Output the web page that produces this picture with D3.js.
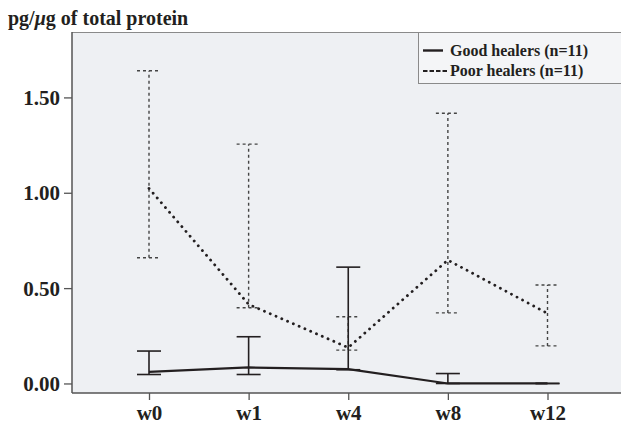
<!DOCTYPE html>
<html>
<head>
  <meta charset="utf-8">
  <script src="https://d3js.org/d3.v7.min.js"></script>
  <style>
    body { margin: 0; background: #fff; }
    text { font-family: "Liberation Serif", "Times New Roman", serif; font-weight: bold; fill: #231f20; }
  </style>
</head>
<body>
  <svg id="chart" width="621" height="424"></svg>
  <script>
    // weeks on the x axis
    var weeks = ['w0', 'w1', 'w4', 'w8', 'w12'];
    // good healers: value and error bar (low / high)
    var goodVal  = [0.061, 0.084, 0.075, 0.000, 0.000];
    var goodLow  = [0.047, 0.047, 0.072, 0.000, 0.000];
    var goodHigh = [0.170, 0.245, 0.610, 0.052, 0.000];
    // poor healers
    var poorVal  = [1.023, 0.415, 0.188, 0.647, 0.367];
    var poorLow  = [0.659, 0.397, 0.175, 0.370, 0.197];
    var poorHigh = [1.640, 1.255, 0.350, 1.417, 0.516];
    var yTicks = [0, 0.5, 1.0, 1.5];

    var svg = d3.select('#chart');
    // note: "top" is taken by window.top, so use plot* names
    var plotLeft = 72, plotTop = 32, plotRight = 624, plotBottom = 393;

    var x = d3.scalePoint().domain(weeks).range([149, 547.5]);
    var y = d3.scaleLinear().domain([-0.05, 1.843]).range([plotBottom, plotTop]);

    // plot background + frame
    svg.append('rect')
      .attr('x', plotLeft).attr('y', plotTop)
      .attr('width', plotRight - plotLeft).attr('height', plotBottom - plotTop)
      .attr('fill', '#eef0f3');
    svg.append('line').attr('x1', plotLeft).attr('x2', plotRight).attr('y1', plotTop + 0.5).attr('y2', plotTop + 0.5)
      .attr('stroke', '#8a8a8a').attr('stroke-width', 1.2);

    // y axis
    var gy = svg.append('g').attr('transform', 'translate(' + plotLeft + ',0)')
      .call(d3.axisLeft(y).tickValues(yTicks).tickFormat(d3.format('.2f')).tickSize(8).tickPadding(4));
    gy.select('.domain').attr('stroke', '#555').attr('stroke-width', 1.5).attr('d', 'M0,' + plotBottom + 'V' + plotTop);
    gy.selectAll('.tick line').attr('stroke', '#555').attr('stroke-width', 1.3);
    gy.selectAll('.tick text').style('font-size', '21px').attr('dy', '0.34em');

    // x axis
    var gx = svg.append('g').attr('transform', 'translate(0,' + plotBottom + ')')
      .call(d3.axisBottom(x).tickSize(7).tickPadding(8));
    gx.select('.domain').attr('stroke', '#555').attr('stroke-width', 1.5).attr('d', 'M' + plotLeft + ',0H' + plotRight);
    gx.selectAll('.tick line').attr('stroke', '#555').attr('stroke-width', 1.3);
    gx.selectAll('.tick text').style('font-size', '21px').attr('y', 27).attr('dy', 0);

    // title
    var title = svg.append('text').attr('x', 8).attr('y', 25).style('font-size', '20px');
    title.append('tspan').text('pg/');
    title.append('tspan').style('font-style', 'italic').text('\u03bc');
    title.append('tspan').text('g of total protein');

    var cap = 12;
    function errorBars(low, high, dash, color, width) {
      var g = svg.append('g').attr('stroke', color).attr('stroke-width', width).attr('fill', 'none');
      if (dash) g.attr('stroke-dasharray', dash);
      weeks.forEach(function(w, i) {
        var cx = x(w);
        g.append('line').attr('x1', cx).attr('x2', cx).attr('y1', y(low[i])).attr('y2', y(high[i]));
        g.append('line').attr('x1', cx - cap).attr('x2', cx + cap).attr('y1', y(high[i])).attr('y2', y(high[i]));
        g.append('line').attr('x1', cx - cap).attr('x2', cx + cap).attr('y1', y(low[i])).attr('y2', y(low[i]));
      });
    }

    var line = d3.line().x(function(d, i) { return x(weeks[i]); }).y(function(d) { return y(d); });

    // poor healers
    errorBars(poorLow, poorHigh, '3,3', '#444', 1.4);
    svg.append('path').datum(poorVal).attr('d', line)
      .attr('fill', 'none').attr('stroke', '#231f20').attr('stroke-width', 2.8)
      .attr('stroke-linecap', 'round').attr('stroke-dasharray', '0.1,6.2');

    // good healers
    errorBars(goodLow, goodHigh, null, '#231f20', 1.6);
    svg.append('path').datum(goodVal).attr('d', line)
      .attr('fill', 'none').attr('stroke', '#231f20').attr('stroke-width', 2.2);

    // legend
    var lg = svg.append('g');
    lg.append('rect').attr('x', 418.5).attr('y', plotTop + 0.5).attr('width', 210).attr('height', 51)
      .attr('fill', '#f4f5f7').attr('stroke', '#8a8a8a').attr('stroke-width', 1);
    lg.append('line').attr('x1', 423).attr('x2', 443).attr('y1', 50.5).attr('y2', 50.5)
      .attr('stroke', '#231f20').attr('stroke-width', 2.4);
    lg.append('line').attr('x1', 423).attr('x2', 448).attr('y1', 71).attr('y2', 71)
      .attr('stroke', '#231f20').attr('stroke-width', 1.8).attr('stroke-dasharray', '4.5,2');
    lg.append('text').attr('x', 450).attr('y', 56).style('font-size', '16px').text('Good healers (n=11)');
    lg.append('text').attr('x', 450).attr('y', 76).style('font-size', '16px').text('Poor healers (n=11)');
  </script>
</body>
</html>
